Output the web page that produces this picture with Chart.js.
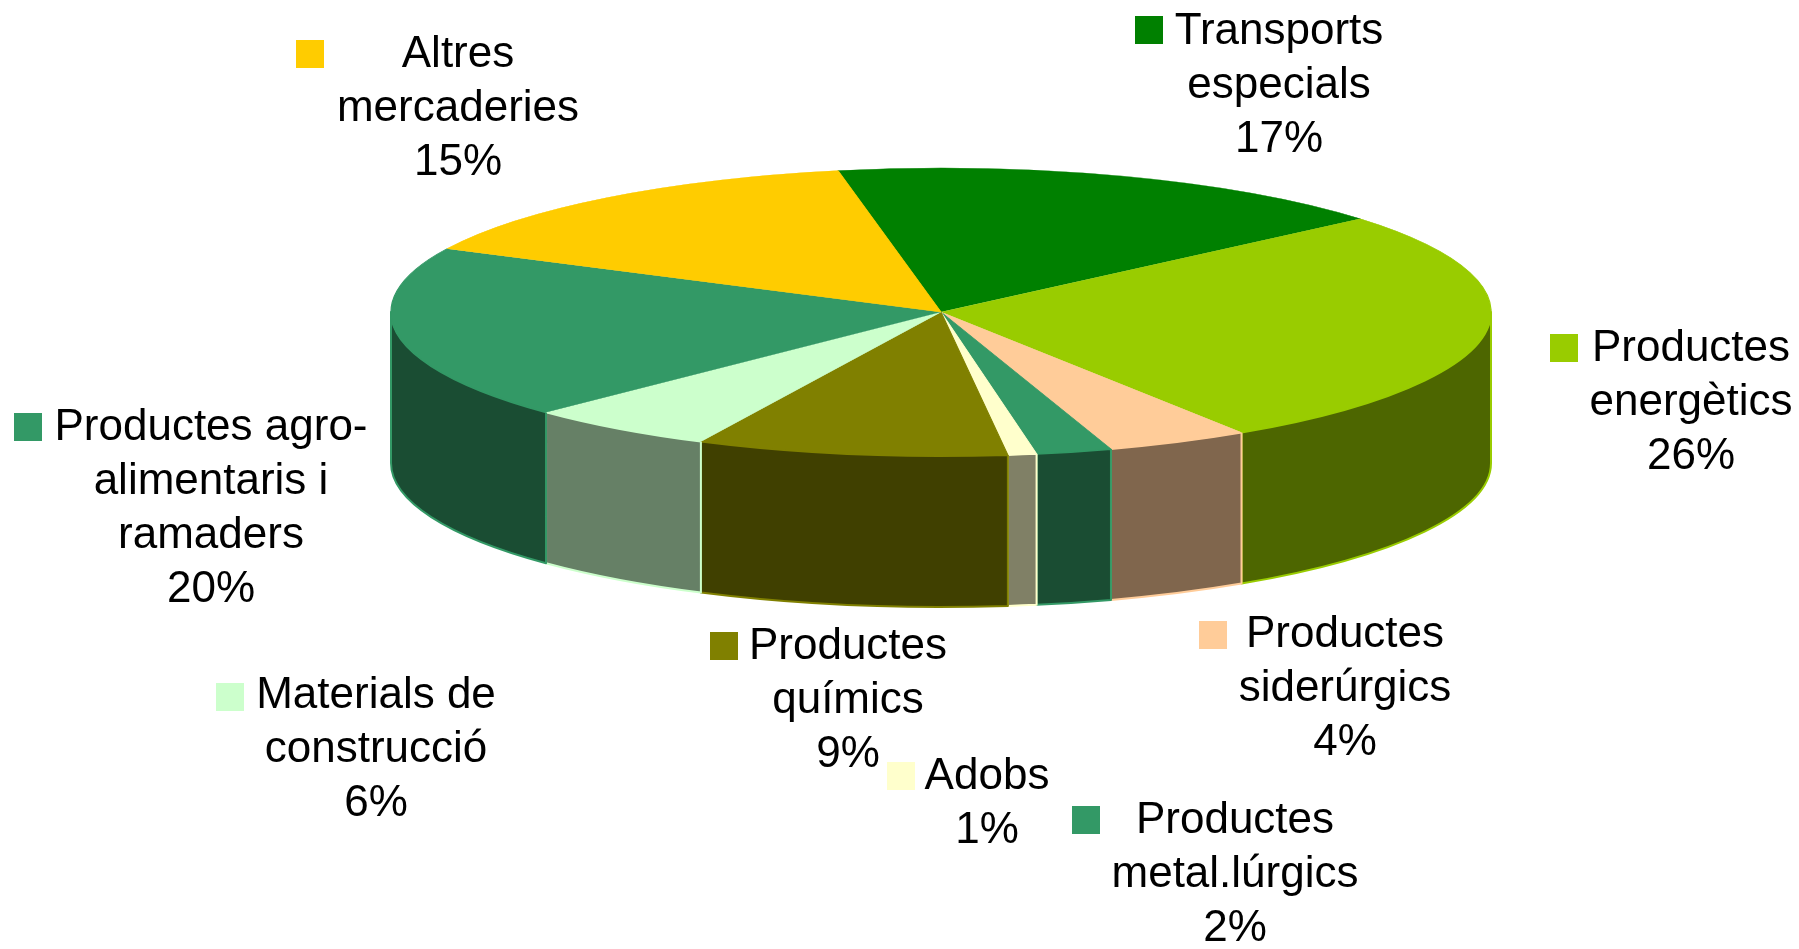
<!DOCTYPE html>
<html lang="ca">
<head>
    <meta charset="UTF-8">
    <title>Mercaderies</title>
    <script src="https://cdn.jsdelivr.net/npm/chart.js"></script>
    <style>
        body {
            margin: 0;
            background-color: white;
        }

        #wrap {
            width: 1799px;
            height: 949px;
        }
    </style>
</head>
<body>
    <div id="wrap"><canvas id="pieChart" width="1799" height="949"></canvas></div>

    <script>
        // Data, clockwise from the top
        const categories = ['Transports especials', 'Productes energètics', 'Productes siderúrgics', 'Productes metal.lúrgics', 'Adobs', 'Productes químics', 'Materials de construcció', 'Productes agro-alimentaris i ramaders', 'Altres mercaderies'];
        const shares = [16.8, 27.0, 4.2, 2.22, 0.84, 9.13, 5.56, 19.5, 14.75];
        const shareLabels = ['17%', '26%', '4%', '2%', '1%', '9%', '6%', '20%', '15%'];
        const sliceColors = ['#008000', '#99CC00', '#FFCC99', '#339966', '#FFFFCC', '#808000', '#CCFFCC', '#339966', '#FFCC00'];
        const labelLines = [
            ['Transports', 'especials'],
            ['Productes', 'energètics'],
            ['Productes', 'siderúrgics'],
            ['Productes', 'metal.lúrgics'],
            ['Adobs'],
            ['Productes', 'químics'],
            ['Materials de', 'construcció'],
            ['Productes agro-', 'alimentaris i', 'ramaders'],
            ['Altres', 'mercaderies'],
        ];

        // Where each label sits: text centre x, first line centre y, swatch left, swatch top
        const labelSpots = [
            [1279, 32, 1135, 16],
            [1691, 349, 1550, 334],
            [1345, 635, 1199, 621],
            [1235, 821, 1072, 806],
            [987, 777, 887, 762],
            [848, 647, 710, 632],
            [376, 696, 216, 683],
            [211, 428, 14, 413],
            [458, 55, 296, 40],
        ];

        // Look of the tilted disc
        const centerX = 941;
        const centerY = 312;
        const radiusX = 550;
        const radiusY = 144;
        const depth = 151;
        const lineGap = 54;
        const swatchSize = 28;

        function darken(hex) {
            const n = parseInt(hex.slice(1), 16);
            const half = (v) => Math.round(v * 0.5);
            return `rgb(${half(n >> 16)}, ${half((n >> 8) & 255)}, ${half(n & 255)})`;
        }

        // Squash the round pie into an ellipse and draw the side wall under it
        const tiltPlugin = {
            id: 'tilt',
            beforeDatasetsDraw(chart) {
                const ctx = chart.ctx;
                const arcs = chart.getDatasetMeta(0).data;

                arcs.forEach((arc, i) => {
                    const from = Math.max(arc.startAngle, 0);
                    const to = Math.min(arc.endAngle, Math.PI);
                    if (to <= from) return;

                    ctx.save();
                    ctx.beginPath();
                    ctx.ellipse(centerX, centerY, radiusX, radiusY, 0, from, to);
                    ctx.ellipse(centerX, centerY + depth, radiusX, radiusY, 0, to, from, true);
                    ctx.closePath();
                    ctx.fillStyle = darken(sliceColors[i]);
                    ctx.fill();
                    ctx.strokeStyle = sliceColors[i];
                    ctx.lineWidth = 2;
                    ctx.lineJoin = 'round';
                    ctx.stroke();
                    ctx.restore();
                });

                const radius = arcs[0].outerRadius;
                ctx.save();
                ctx.translate(centerX, centerY);
                ctx.scale(radiusX / radius, radiusY / radius);
                ctx.translate(-arcs[0].x, -arcs[0].y);
            },
            afterDatasetsDraw(chart) {
                chart.ctx.restore();
            },
            afterDraw(chart) {
                const ctx = chart.ctx;
                ctx.save();
                ctx.font = '44px "Liberation Sans", Arial, sans-serif';
                ctx.fillStyle = 'black';
                ctx.textAlign = 'center';
                ctx.textBaseline = 'middle';

                labelLines.forEach((lines, i) => {
                    const [textX, textY, boxX, boxY] = labelSpots[i];
                    lines.concat(shareLabels[i]).forEach((line, k) => {
                        ctx.fillText(line, textX, textY + k * lineGap);
                    });
                    ctx.save();
                    ctx.fillStyle = sliceColors[i];
                    ctx.fillRect(boxX, boxY, swatchSize, swatchSize);
                    ctx.restore();
                });
                ctx.restore();
            },
        };

        const pieChart = new Chart(document.getElementById('pieChart'), {
            type: 'pie',
            data: {
                labels: categories,
                datasets: [{
                    data: shares,
                    backgroundColor: sliceColors,
                    borderColor: sliceColors,
                    borderWidth: 1,
                }],
            },
            options: {
                responsive: false,
                animation: false,
                rotation: -10.8,
                plugins: {
                    legend: {
                        display: false,
                    },
                    tooltip: {
                        enabled: false,
                    },
                },
            },
            plugins: [tiltPlugin],
        });
    </script>
</body>
</html>
